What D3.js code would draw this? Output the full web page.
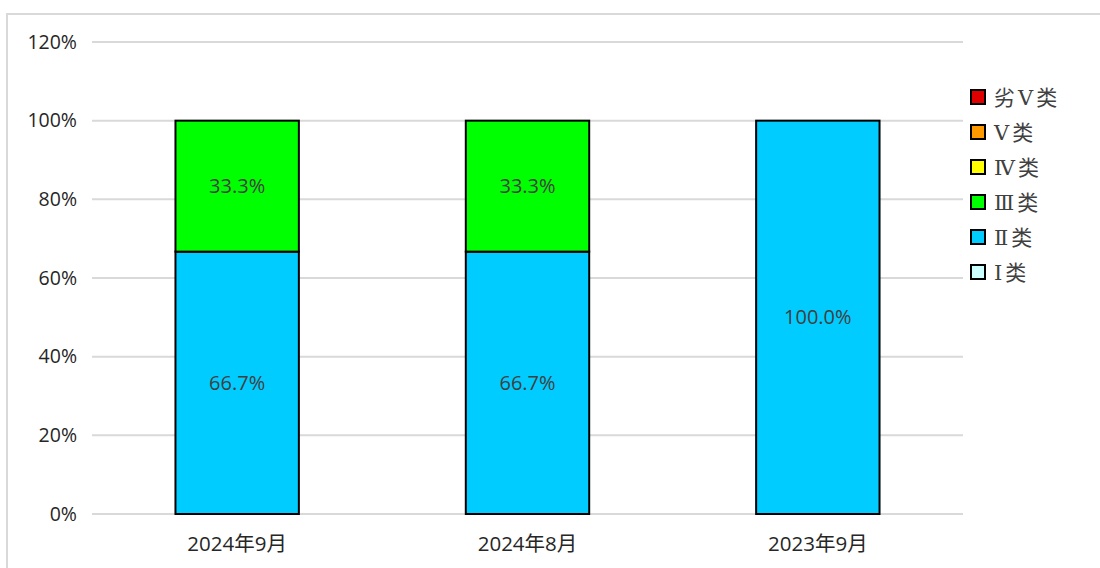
<!DOCTYPE html>
<html><head><meta charset="utf-8">
<script src="https://cdn.jsdelivr.net/npm/d3@7"></script>
<style>html,body{margin:0;padding:0;background:#fff;overflow:hidden}</style>
</head><body>
<svg id="c" width="1100" height="568"></svg>
<script>
const categories = ["2024年9月", "2024年8月", "2023年9月"];
const seriesNames = ["Ⅰ类", "Ⅱ类", "Ⅲ类", "Ⅳ类", "Ⅴ类", "劣Ⅴ类"];
const seriesColors = ["#CCFFFF", "#00CCFF", "#00FF00", "#FFFF00", "#FF9900", "#E00000"];
const valuesI = [0, 0, 0];
const valuesII = [66.7, 66.7, 100.0];
const valuesIII = [33.3, 33.3, 0];
const valuesIV = [0, 0, 0];
const valuesV = [0, 0, 0];
const valuesWorseV = [0, 0, 0];
const yTicks = [0, 20, 40, 60, 80, 100, 120];

(function () {
const seriesValues = [valuesI, valuesII, valuesIII, valuesIV, valuesV, valuesWorseV];
const rows = categories.map((c, i) => {
  const r = {cat: c};
  seriesNames.forEach((s, j) => r[s] = seriesValues[j][i]);
  return r;
});

const svg = d3.select("#c");
svg.append("rect").attr("x", 7).attr("y", 14).attr("width", 1200).attr("height", 700)
  .attr("fill", "none").attr("stroke", "#d9d9d9").attr("stroke-width", 2);

const pLeft = 92, pRight = 963, pTop = 42, pBottom = 514;
const x = d3.scaleBand().domain(categories).range([pLeft, pRight]).paddingInner(0.575).paddingOuter(0.2875);
const y = d3.scaleLinear().domain([0, 120]).range([pBottom, pTop]);

svg.append("g").selectAll("line").data(yTicks).join("line")
  .attr("x1", pLeft).attr("x2", pRight)
  .attr("y1", d => y(d)).attr("y2", d => y(d))
  .attr("stroke", "#d9d9d9").attr("stroke-width", 2);

const yAxis = d3.axisLeft(y).tickValues(yTicks).tickFormat(d => d + "%").tickSize(0).tickPadding(15);
const ya = svg.append("g").attr("transform", `translate(${pLeft},0)`).call(yAxis);
ya.select(".domain").remove();
ya.selectAll("text").attr("font-family", "'Open Sans', 'Liberation Sans', sans-serif")
  .attr("font-size", 19.5).attr("fill", "#262626");

const xAxis = d3.axisBottom(x).tickSize(0).tickPadding(22);
const xa = svg.append("g").attr("transform", `translate(0,${pBottom})`).call(xAxis);
xa.select(".domain").remove();
xa.selectAll("text").attr("font-family", "'Open Sans', 'Noto Sans CJK SC', sans-serif")
  .attr("font-size", 20.5).attr("fill", "#262626");

const stack = d3.stack().keys(seriesNames)(rows);

const gBars = svg.append("g");
stack.forEach((layer, j) => {
  layer.forEach((seg, i) => {
    if (seg[1] - seg[0] <= 0) return;
    gBars.append("rect")
      .attr("x", x(categories[i])).attr("width", x.bandwidth())
      .attr("y", y(seg[1])).attr("height", y(seg[0]) - y(seg[1]))
      .attr("fill", seriesColors[j]).attr("stroke", "#000").attr("stroke-width", 2);
  });
});
stack.forEach((layer, j) => {
  layer.forEach((seg, i) => {
    const v = seg[1] - seg[0];
    if (v <= 0) return;
    gBars.append("text")
      .attr("x", x(categories[i]) + x.bandwidth() / 2)
      .attr("y", (y(seg[0]) + y(seg[1])) / 2)
      .attr("dy", "0.35em").attr("text-anchor", "middle")
      .attr("font-family", "'Open Sans', 'Liberation Sans', sans-serif")
      .attr("font-size", 20).attr("fill", "#404040")
      .text(v.toFixed(1) + "%");
  });
});

const legendOrder = seriesNames.map((s, j) => j).reverse();
const lg = svg.append("g");
legendOrder.forEach((j, k) => {
  const cy = 97 + k * 35;
  lg.append("rect").attr("x", 971).attr("y", cy - 7).attr("width", 14).attr("height", 14)
    .attr("fill", seriesColors[j]).attr("stroke", "#000").attr("stroke-width", 2);
  lg.append("text").attr("x", 994).attr("y", cy).attr("dy", "0.36em")
    .attr("font-family", "'DejaVu Serif', 'Liberation Serif', 'Noto Sans CJK SC', serif")
    .attr("font-size", 21).attr("letter-spacing", 3).attr("fill", "#404040").text(seriesNames[j]);
});
})();
</script>
</body></html>
